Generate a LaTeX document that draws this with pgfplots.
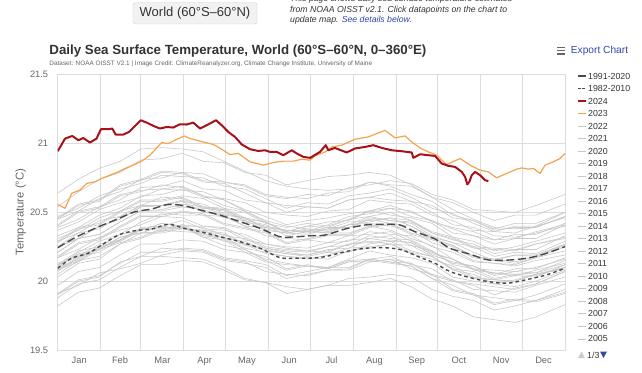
\documentclass[border=0pt]{standalone}
\usepackage{fontspec}
\setmainfont{Liberation Sans}
\usepackage{pgfplots}
\pgfplotsset{compat=1.18}
\definecolor{gridc}{HTML}{DCDCDC}
\definecolor{ticktxt}{HTML}{666666}
\definecolor{titletxt}{HTML}{333333}
\definecolor{greyline}{HTML}{C8C8C8}
\definecolor{meanc}{HTML}{4A4A4A}
\definecolor{red24}{HTML}{A8101A}
\definecolor{orange23}{HTML}{F4A34C}
\definecolor{linkblue}{HTML}{3348A8}
\definecolor{btnfill}{HTML}{F2F2F2}
\definecolor{btnborder}{HTML}{CCCCCC}
\tikzset{
  gl/.style={greyline, line width=0.6bp, line join=round},
  m9120/.style={meanc, line width=1.4bp, dash pattern=on 8bp off 3.5bp},
  m8210/.style={meanc, line width=1.4bp, dash pattern=on 3.5bp off 3bp},
  y24/.style={red24, line width=2bp, line join=round},
  y23/.style={orange23, line width=1.2bp, line join=round},
  legtext/.style={anchor=west, inner sep=0pt, text=titletxt, font=\fontsize{8.8bp}{8.8bp}\selectfont},
}
\begin{document}
\begin{tikzpicture}[x=1bp,y=1bp]
\path[use as bounding box] (0,0) rectangle (642,372);
\begin{axis}[
  at={(57.7bp,22bp)}, anchor=south west,
  scale only axis, width=507.3bp, height=275.3bp,
  xmin=0, xmax=366, ymin=19.5, ymax=21.5,
  xtick={15.5,45,75.5,106,136.5,167,197.5,228.5,259,289.5,320,350.5},
  xticklabels={Jan,Feb,Mar,Apr,May,Jun,Jul,Aug,Sep,Oct,Nov,Dec},
  minor xtick={31,60,91,121,152,182,213,244,274,305,335},
  xminorgrids,
  ytick={19.5,20,20.5,21,21.5},
  yticklabels={19.5,20,20.5,21,21.5},
  ymajorgrids,
  major tick length=0pt, minor tick length=0pt,
  grid style={draw=gridc, line width=0.8bp},
  minor grid style={draw=gridc, line width=0.8bp},
  axis line style={draw=gridc, line width=0.8bp},
  xticklabel style={font=\fontsize{9.3bp}{9.3bp}\selectfont, text=ticktxt, anchor=base, inner sep=0pt, yshift=-13.1bp},
  yticklabel style={font=\fontsize{9.3bp}{9.3bp}\selectfont, text=ticktxt, anchor=east, inner sep=0pt, xshift=-9.4bp},
]
% grey years 1982-2022
\addplot[gl] coordinates {(0,19.91)(15,19.97)(30,20.06)(45,20.09)(60,20.13)(75,20.19)(90,20.22)(105,20.21)(120,20.15)(135,20.13)(150,20.10)(165,20.02)(180,20.05)(195,20.08)(210,20.08)(225,20.14)(240,20.16)(255,20.13)(270,20.04)(285,20.00)(300,19.97)(315,19.90)(330,19.95)(345,19.98)(366,20.07)};
\addplot[gl] coordinates {(0,20.12)(15,20.22)(30,20.25)(45,20.34)(60,20.37)(75,20.42)(90,20.40)(105,20.33)(120,20.31)(135,20.23)(150,20.16)(165,20.13)(180,20.11)(195,20.10)(210,20.15)(225,20.16)(240,20.14)(255,20.11)(270,20.02)(285,19.93)(300,19.90)(315,19.83)(330,19.86)(345,19.85)(366,19.91)};
\addplot[gl] coordinates {(0,19.88)(15,19.98)(30,20.01)(45,20.10)(60,20.18)(75,20.18)(90,20.17)(105,20.16)(120,20.10)(135,20.02)(150,19.99)(165,19.91)(180,19.94)(195,19.97)(210,19.97)(225,19.99)(240,20.02)(255,19.96)(270,19.87)(285,19.82)(300,19.74)(315,19.72)(330,19.70)(345,19.74)(366,19.83)};
\addplot[gl] coordinates {(0,19.82)(15,19.92)(30,19.95)(45,20.04)(60,20.12)(75,20.12)(90,20.15)(105,20.14)(120,20.08)(135,20.01)(150,19.99)(165,19.96)(180,19.94)(195,19.97)(210,20.02)(225,20.03)(240,20.05)(255,20.03)(270,19.94)(285,19.89)(300,19.86)(315,19.79)(330,19.82)(345,19.86)(366,19.94)};
\addplot[gl] coordinates {(0,19.91)(15,20.01)(30,20.04)(45,20.13)(60,20.21)(75,20.21)(90,20.24)(105,20.23)(120,20.17)(135,20.15)(150,20.12)(165,20.04)(180,20.07)(195,20.10)(210,20.10)(225,20.16)(240,20.18)(255,20.12)(270,20.09)(285,20.00)(300,19.98)(315,19.96)(330,19.94)(345,19.98)(366,20.07)};
\addplot[gl] coordinates {(0,20.07)(15,20.17)(30,20.25)(45,20.29)(60,20.37)(75,20.42)(90,20.40)(105,20.40)(120,20.38)(135,20.30)(150,20.27)(165,20.24)(180,20.22)(195,20.25)(210,20.30)(225,20.31)(240,20.33)(255,20.26)(270,20.22)(285,20.12)(300,20.09)(315,20.02)(330,20.05)(345,20.04)(366,20.10)};
\addplot[gl] coordinates {(0,20.12)(15,20.18)(30,20.27)(45,20.30)(60,20.38)(75,20.37)(90,20.40)(105,20.32)(120,20.30)(135,20.21)(150,20.18)(165,20.09)(180,20.12)(195,20.09)(210,20.14)(225,20.14)(240,20.16)(255,20.09)(270,20.05)(285,19.94)(300,19.91)(315,19.84)(330,19.87)(345,19.86)(366,19.92)};
\addplot[gl] coordinates {(0,19.90)(15,20.00)(30,20.03)(45,20.14)(60,20.18)(75,20.24)(90,20.23)(105,20.22)(120,20.16)(135,20.14)(150,20.07)(165,20.05)(180,20.04)(195,20.08)(210,20.09)(225,20.16)(240,20.14)(255,20.13)(270,20.05)(285,20.01)(300,19.94)(315,19.93)(330,19.92)(345,19.97)(366,20.03)};
\addplot[gl] coordinates {(0,20.03)(15,20.13)(30,20.16)(45,20.27)(60,20.31)(75,20.37)(90,20.36)(105,20.35)(120,20.29)(135,20.27)(150,20.20)(165,20.18)(180,20.17)(195,20.16)(210,20.22)(225,20.24)(240,20.27)(255,20.21)(270,20.18)(285,20.09)(300,20.02)(315,20.01)(330,20.00)(345,20.05)(366,20.10)};
\addplot[gl] coordinates {(0,20.09)(15,20.15)(30,20.24)(45,20.29)(60,20.38)(75,20.39)(90,20.38)(105,20.37)(120,20.35)(135,20.27)(150,20.24)(165,20.21)(180,20.19)(195,20.22)(210,20.27)(225,20.28)(240,20.30)(255,20.28)(270,20.19)(285,20.14)(300,20.11)(315,20.04)(330,20.07)(345,20.06)(366,20.15)};
\addplot[gl] coordinates {(0,20.13)(15,20.19)(30,20.23)(45,20.32)(60,20.35)(75,20.36)(90,20.39)(105,20.32)(120,20.26)(135,20.23)(150,20.15)(165,20.08)(180,20.11)(195,20.09)(210,20.14)(225,20.15)(240,20.13)(255,20.11)(270,20.02)(285,19.97)(300,19.90)(315,19.88)(330,19.86)(345,19.90)(366,19.98)};
\addplot[gl] coordinates {(0,19.97)(15,20.07)(30,20.10)(45,20.19)(60,20.27)(75,20.27)(90,20.30)(105,20.29)(120,20.23)(135,20.21)(150,20.14)(165,20.12)(180,20.11)(195,20.10)(210,20.16)(225,20.22)(240,20.19)(255,20.17)(270,20.13)(285,20.03)(300,20.00)(315,19.98)(330,19.96)(345,20.00)(366,20.08)};
\addplot[gl] coordinates {(0,20.05)(15,20.15)(30,20.18)(45,20.27)(60,20.35)(75,20.35)(90,20.38)(105,20.37)(120,20.31)(135,20.29)(150,20.22)(165,20.20)(180,20.19)(195,20.23)(210,20.24)(225,20.31)(240,20.29)(255,20.28)(270,20.20)(285,20.16)(300,20.09)(315,20.08)(330,20.07)(345,20.10)(366,20.16)};
\addplot[gl] coordinates {(0,20.17)(15,20.23)(30,20.32)(45,20.37)(60,20.41)(75,20.47)(90,20.46)(105,20.40)(120,20.39)(135,20.32)(150,20.25)(165,20.23)(180,20.22)(195,20.21)(210,20.27)(225,20.29)(240,20.27)(255,20.26)(270,20.18)(285,20.09)(300,20.07)(315,20.01)(330,20.00)(345,20.05)(366,20.10)};
\addplot[gl] coordinates {(0,20.08)(15,20.14)(30,20.23)(45,20.28)(60,20.32)(75,20.38)(90,20.41)(105,20.34)(120,20.32)(135,20.24)(150,20.21)(165,20.18)(180,20.16)(195,20.19)(210,20.24)(225,20.25)(240,20.27)(255,20.20)(270,20.16)(285,20.11)(300,20.03)(315,20.01)(330,20.04)(345,20.03)(366,20.12)};
\addplot[gl] coordinates {(0,20.11)(15,20.21)(30,20.29)(45,20.34)(60,20.43)(75,20.49)(90,20.48)(105,20.48)(120,20.47)(135,20.40)(150,20.39)(165,20.37)(180,20.36)(195,20.41)(210,20.47)(225,20.49)(240,20.53)(255,20.51)(270,20.43)(285,20.39)(300,20.36)(315,20.30)(330,20.34)(345,20.34)(366,20.42)};
\addplot[gl] coordinates {(0,20.41)(15,20.51)(30,20.54)(45,20.63)(60,20.66)(75,20.67)(90,20.69)(105,20.62)(120,20.55)(135,20.51)(150,20.43)(165,20.35)(180,20.37)(195,20.35)(210,20.35)(225,20.40)(240,20.37)(255,20.31)(270,20.26)(285,20.16)(300,20.09)(315,20.06)(330,20.05)(345,20.06)(366,20.12)};
\addplot[gl] coordinates {(0,20.10)(15,20.20)(30,20.23)(45,20.32)(60,20.35)(75,20.40)(90,20.38)(105,20.36)(120,20.34)(135,20.26)(150,20.23)(165,20.20)(180,20.18)(195,20.21)(210,20.21)(225,20.27)(240,20.29)(255,20.22)(270,20.18)(285,20.08)(300,20.05)(315,19.98)(330,20.01)(345,20.05)(366,20.09)};
\addplot[gl] coordinates {(0,20.08)(15,20.18)(30,20.21)(45,20.30)(60,20.38)(75,20.38)(90,20.41)(105,20.39)(120,20.33)(135,20.31)(150,20.24)(165,20.22)(180,20.21)(195,20.25)(210,20.26)(225,20.33)(240,20.31)(255,20.30)(270,20.22)(285,20.13)(300,20.11)(315,20.05)(330,20.09)(345,20.09)(366,20.17)};
\addplot[gl] coordinates {(0,20.18)(15,20.28)(30,20.31)(45,20.40)(60,20.48)(75,20.48)(90,20.51)(105,20.49)(120,20.42)(135,20.39)(150,20.36)(165,20.28)(180,20.31)(195,20.34)(210,20.34)(225,20.40)(240,20.42)(255,20.35)(270,20.31)(285,20.26)(300,20.18)(315,20.16)(330,20.19)(345,20.18)(366,20.27)};
\addplot[gl] coordinates {(0,20.25)(15,20.31)(30,20.40)(45,20.45)(60,20.54)(75,20.55)(90,20.54)(105,20.53)(120,20.51)(135,20.43)(150,20.40)(165,20.37)(180,20.35)(195,20.38)(210,20.43)(225,20.44)(240,20.46)(255,20.44)(270,20.35)(285,20.30)(300,20.27)(315,20.20)(330,20.23)(345,20.27)(366,20.31)};
\addplot[gl] coordinates {(0,20.31)(15,20.37)(30,20.46)(45,20.51)(60,20.55)(75,20.61)(90,20.60)(105,20.54)(120,20.53)(135,20.46)(150,20.39)(165,20.37)(180,20.36)(195,20.35)(210,20.41)(225,20.43)(240,20.46)(255,20.40)(270,20.32)(285,20.28)(300,20.21)(315,20.15)(330,20.19)(345,20.19)(366,20.27)};
\addplot[gl] coordinates {(0,20.25)(15,20.35)(30,20.38)(45,20.47)(60,20.55)(75,20.55)(90,20.58)(105,20.56)(120,20.49)(135,20.46)(150,20.38)(165,20.35)(180,20.38)(195,20.36)(210,20.41)(225,20.47)(240,20.44)(255,20.42)(270,20.33)(285,20.28)(300,20.25)(315,20.18)(330,20.21)(345,20.20)(366,20.29)};
\addplot[gl] coordinates {(0,20.28)(15,20.38)(30,20.41)(45,20.50)(60,20.58)(75,20.58)(90,20.61)(105,20.54)(120,20.52)(135,20.44)(150,20.41)(165,20.33)(180,20.36)(195,20.39)(210,20.39)(225,20.45)(240,20.42)(255,20.40)(270,20.31)(285,20.26)(300,20.18)(315,20.16)(330,20.14)(345,20.18)(366,20.26)};
\addplot[gl] coordinates {(0,20.21)(15,20.31)(30,20.34)(45,20.43)(60,20.51)(75,20.51)(90,20.54)(105,20.52)(120,20.46)(135,20.44)(150,20.37)(165,20.35)(180,20.34)(195,20.38)(210,20.39)(225,20.46)(240,20.44)(255,20.43)(270,20.35)(285,20.31)(300,20.24)(315,20.23)(330,20.22)(345,20.27)(366,20.32)};
\addplot[gl] coordinates {(0,20.29)(15,20.35)(30,20.44)(45,20.47)(60,20.55)(75,20.55)(90,20.58)(105,20.50)(120,20.48)(135,20.40)(150,20.33)(165,20.31)(180,20.30)(195,20.28)(210,20.33)(225,20.34)(240,20.36)(255,20.29)(270,20.21)(285,20.16)(300,20.08)(315,20.06)(330,20.04)(345,20.08)(366,20.13)};
\addplot[gl] coordinates {(0,20.10)(15,20.16)(30,20.25)(45,20.30)(60,20.39)(75,20.40)(90,20.44)(105,20.38)(120,20.37)(135,20.34)(150,20.27)(165,20.25)(180,20.24)(195,20.28)(210,20.29)(225,20.36)(240,20.34)(255,20.33)(270,20.25)(285,20.21)(300,20.14)(315,20.13)(330,20.12)(345,20.17)(366,20.22)};
\addplot[gl] coordinates {(0,20.21)(15,20.31)(30,20.34)(45,20.43)(60,20.51)(75,20.52)(90,20.56)(105,20.54)(120,20.48)(135,20.46)(150,20.43)(165,20.36)(180,20.40)(195,20.43)(210,20.44)(225,20.51)(240,20.53)(255,20.47)(270,20.44)(285,20.35)(300,20.33)(315,20.27)(330,20.31)(345,20.31)(366,20.41)};
\addplot[gl] coordinates {(0,20.40)(15,20.50)(30,20.53)(45,20.62)(60,20.65)(75,20.70)(90,20.68)(105,20.62)(120,20.59)(135,20.51)(150,20.44)(165,20.40)(180,20.38)(195,20.37)(210,20.41)(225,20.42)(240,20.40)(255,20.37)(270,20.28)(285,20.23)(300,20.15)(315,20.13)(330,20.11)(345,20.15)(366,20.19)};
\addplot[gl] coordinates {(0,20.17)(15,20.27)(30,20.30)(45,20.39)(60,20.47)(75,20.47)(90,20.50)(105,20.48)(120,20.41)(135,20.38)(150,20.35)(165,20.27)(180,20.30)(195,20.33)(210,20.33)(225,20.39)(240,20.41)(255,20.34)(270,20.30)(285,20.25)(300,20.17)(315,20.15)(330,20.13)(345,20.17)(366,20.25)};
\addplot[gl] coordinates {(0,20.25)(15,20.31)(30,20.40)(45,20.45)(60,20.54)(75,20.55)(90,20.59)(105,20.53)(120,20.52)(135,20.45)(150,20.43)(165,20.36)(180,20.40)(195,20.39)(210,20.45)(225,20.47)(240,20.50)(255,20.44)(270,20.36)(285,20.32)(300,20.25)(315,20.24)(330,20.23)(345,20.23)(366,20.33)};
\addplot[gl] coordinates {(0,20.29)(15,20.39)(30,20.42)(45,20.51)(60,20.59)(75,20.59)(90,20.62)(105,20.60)(120,20.53)(135,20.50)(150,20.42)(165,20.39)(180,20.42)(195,20.40)(210,20.45)(225,20.51)(240,20.48)(255,20.46)(270,20.42)(285,20.32)(300,20.29)(315,20.22)(330,20.25)(345,20.29)(366,20.35)};
\addplot[gl] coordinates {(0,20.33)(15,20.39)(30,20.48)(45,20.53)(60,20.62)(75,20.63)(90,20.67)(105,20.61)(120,20.60)(135,20.57)(150,20.50)(165,20.48)(180,20.47)(195,20.51)(210,20.52)(225,20.59)(240,20.57)(255,20.56)(270,20.48)(285,20.44)(300,20.37)(315,20.36)(330,20.35)(345,20.40)(366,20.46)};
\addplot[gl] coordinates {(0,20.45)(15,20.51)(30,20.60)(45,20.65)(60,20.74)(75,20.75)(90,20.79)(105,20.73)(120,20.72)(135,20.69)(150,20.62)(165,20.60)(180,20.63)(195,20.62)(210,20.68)(225,20.70)(240,20.73)(255,20.71)(270,20.63)(285,20.59)(300,20.52)(315,20.51)(330,20.50)(345,20.55)(366,20.63)};
\addplot[gl] coordinates {(0,20.64)(15,20.74)(30,20.82)(45,20.87)(60,20.96)(75,20.97)(90,20.96)(105,20.94)(120,20.87)(135,20.80)(150,20.73)(165,20.69)(180,20.67)(195,20.66)(210,20.67)(225,20.72)(240,20.69)(255,20.63)(270,20.58)(285,20.48)(300,20.44)(315,20.37)(330,20.39)(345,20.39)(366,20.47)};
\addplot[gl] coordinates {(0,20.45)(15,20.55)(30,20.58)(45,20.69)(60,20.73)(75,20.79)(90,20.78)(105,20.72)(120,20.71)(135,20.64)(150,20.57)(165,20.55)(180,20.54)(195,20.53)(210,20.59)(225,20.61)(240,20.59)(255,20.58)(270,20.50)(285,20.41)(300,20.39)(315,20.33)(330,20.32)(345,20.35)(366,20.40)};
\addplot[gl] coordinates {(0,20.37)(15,20.43)(30,20.52)(45,20.57)(60,20.61)(75,20.67)(90,20.66)(105,20.65)(120,20.59)(135,20.52)(150,20.47)(165,20.41)(180,20.44)(195,20.46)(210,20.49)(225,20.51)(240,20.55)(255,20.50)(270,20.44)(285,20.38)(300,20.33)(315,20.30)(330,20.31)(345,20.36)(366,20.41)};
\addplot[gl] coordinates {(0,20.46)(15,20.56)(30,20.59)(45,20.70)(60,20.74)(75,20.80)(90,20.79)(105,20.78)(120,20.72)(135,20.70)(150,20.63)(165,20.61)(180,20.60)(195,20.64)(210,20.65)(225,20.72)(240,20.70)(255,20.69)(270,20.61)(285,20.57)(300,20.50)(315,20.44)(330,20.48)(345,20.48)(366,20.56)};
\addplot[gl] coordinates {(0,20.54)(15,20.65)(30,20.74)(45,20.79)(60,20.88)(75,20.89)(90,20.93)(105,20.87)(120,20.86)(135,20.79)(150,20.77)(165,20.70)(180,20.73)(195,20.76)(210,20.77)(225,20.79)(240,20.77)(255,20.70)(270,20.61)(285,20.52)(300,20.45)(315,20.39)(330,20.38)(345,20.39)(366,20.47)};
\addplot[gl] coordinates {(0,20.39)(15,20.45)(30,20.54)(45,20.59)(60,20.68)(75,20.69)(90,20.73)(105,20.67)(120,20.66)(135,20.59)(150,20.57)(165,20.50)(180,20.54)(195,20.53)(210,20.59)(225,20.61)(240,20.64)(255,20.58)(270,20.55)(285,20.46)(300,20.44)(315,20.38)(330,20.42)(345,20.42)(366,20.50)};
\addplot[gl] coordinates {(0,20.47)(15,20.53)(30,20.62)(45,20.67)(60,20.71)(75,20.77)(90,20.76)(105,20.75)(120,20.69)(135,20.67)(150,20.60)(165,20.53)(180,20.57)(195,20.56)(210,20.62)(225,20.64)(240,20.67)(255,20.61)(270,20.53)(285,20.49)(300,20.42)(315,20.36)(330,20.40)(345,20.40)(366,20.50)};
% climatological means
\addplot[m8210, smooth] coordinates {(0,20.094)(10.1,20.167)(22.1,20.203)(31.7,20.263)(43.7,20.335)(55.8,20.367)(67.8,20.379)(79.8,20.413)(91.3,20.384)(102.7,20.36)(117.1,20.323)(131.5,20.287)(146,20.239)(160.4,20.171)(172.4,20.167)(182,20.167)(192.9,20.178)(207.3,20.214)(221.7,20.239)(236.1,20.243)(248.2,20.227)(260.2,20.178)(272.2,20.13)(283,20.07)(297.5,20.026)(310.7,19.997)(325.1,19.986)(340.8,20.017)(352.8,20.046)(366,20.094)};
\addplot[m9120, smooth] coordinates {(0,20.243)(12.5,20.316)(26.9,20.384)(41.3,20.444)(55.8,20.504)(67.8,20.524)(79.8,20.558)(91.3,20.548)(102.7,20.517)(117.1,20.48)(131.5,20.432)(146,20.384)(160.4,20.323)(172.4,20.323)(182,20.33)(192.9,20.335)(207.3,20.379)(221.7,20.408)(236.1,20.413)(246.9,20.408)(257.7,20.36)(272.2,20.307)(283,20.239)(297.5,20.196)(310.7,20.154)(326.4,20.154)(340.8,20.171)(352.8,20.203)(366,20.251)};
% 2023
\addplot[y23] coordinates {(0,20.558)(5.3,20.529)(10.1,20.638)(16.1,20.662)(20.9,20.71)(26.9,20.722)(31.7,20.746)(37.7,20.77)(43.7,20.794)(48.6,20.819)(54.5,20.843)(60.6,20.872)(66.6,20.915)(71.4,20.968)(75,21.007)(79.8,21.0)(84.6,21.024)(91.3,21.055)(95.5,21.036)(102.7,21.017)(112.3,20.993)(119.5,20.951)(124.3,20.92)(130.3,20.928)(138.7,20.867)(148.3,20.843)(155.6,20.862)(162.8,20.872)(170,20.872)(176,20.886)(182,20.879)(185.6,20.91)(192.9,20.939)(197.7,20.975)(204.9,20.988)(214.5,21.031)(224.1,21.048)(230.2,21.072)(236.1,21.096)(243.4,21.041)(250.6,21.055)(255.4,21.012)(261.4,20.968)(267.4,20.939)(273.4,20.915)(280.6,20.848)(290.3,20.891)(297.5,20.843)(304.7,20.806)(310.7,20.794)(316.7,20.751)(323.9,20.783)(331.2,20.814)(334.8,20.823)(339.6,20.814)(343.2,20.819)(348,20.783)(351.6,20.843)(357.6,20.867)(362.4,20.891)(366,20.928)};
% 2024
\addplot[y24] coordinates {(0,20.944)(5.3,21.036)(10.5,21.055)(14.9,21.024)(18.5,21.04)(23.3,21.007)(28,21.036)(31.2,21.104)(36.5,21.104)(39.4,21.109)(41.8,21.065)(47.3,21.065)(51.4,21.084)(55.8,21.128)(59.9,21.169)(64.2,21.152)(69,21.128)(73.8,21.109)(78.6,21.12)(83.4,21.116)(88.2,21.14)(93,21.138)(97.8,21.152)(102.7,21.109)(107.5,21.133)(114.2,21.169)(118.3,21.133)(123.1,21.084)(127.9,21.048)(132.8,20.993)(138.7,20.959)(144.7,20.946)(149.6,20.951)(153.2,20.939)(158,20.939)(162.8,20.915)(168.8,20.951)(172.4,20.928)(177.2,20.903)(182,20.896)(183.3,20.903)(189.2,20.939)(193.4,20.988)(195.2,20.951)(200,20.968)(208.5,20.935)(214.5,20.964)(221.7,20.975)(227.7,20.988)(233.8,20.968)(241,20.951)(248.2,20.944)(255.4,20.935)(256.6,20.896)(261.4,20.922)(267.4,20.915)(272.2,20.91)(277,20.855)(281.8,20.838)(286.7,20.83)(291.5,20.794)(293.9,20.758)(295.5,20.703)(297,20.722)(298.7,20.77)(301.1,20.794)(304.7,20.77)(308.3,20.734)(310.7,20.727)};
\end{axis}
% y axis title
\node[rotate=90, inner sep=0pt, text=ticktxt, font=\fontsize{11.3bp}{11.3bp}\selectfont] at (20.7,160) {Temperature (°C)};
% titles
\node[anchor=west, inner sep=0pt, text=titletxt, font=\bfseries\fontsize{13.3bp}{13.3bp}\selectfont] at (49.3,321.3) {Daily Sea Surface Temperature, World (60°S–60°N, 0–360°E)};
\node[anchor=west, inner sep=0pt, text=ticktxt, font=\fontsize{6.4bp}{6.4bp}\selectfont] at (49.3,307.7) {Dataset: NOAA OISST V2.1 | Image Credit: ClimateReanalyzer.org, Climate Change Institute, University of Maine};
% export chart
\foreach \yy in {324.5,321.3,318.1} {\draw[ticktxt, line width=1.2bp] (557,\yy) -- (565,\yy);}
\node[anchor=west, inner sep=0pt, text=linkblue, font=\fontsize{10.2bp}{10.2bp}\selectfont] at (570.7,321.3) {Export Chart};
% top button and note
\draw[fill=btnfill, draw=btnborder, rounded corners=2.5bp] (133,348) rectangle (257,369.3);
\node[inner sep=0pt, text=titletxt, font=\fontsize{13bp}{13bp}\selectfont] at (195,358.7) {World (60°S–60°N)};
\node[anchor=west, inner sep=0pt, text=titletxt, font=\itshape\fontsize{8.7bp}{8.7bp}\selectfont] at (290,373) {This page shows daily sea surface temperature estimates};
\node[anchor=west, inner sep=0pt, text=titletxt, font=\itshape\fontsize{8.7bp}{8.7bp}\selectfont] at (290,362) {from NOAA OISST v2.1. Click datapoints on the chart to};
\node[anchor=west, inner sep=0pt, text=titletxt, font=\itshape\fontsize{8.7bp}{8.7bp}\selectfont] at (290,352) {update map. \textcolor{linkblue}{See details below.}};
% legend
\draw[m9120] (578,296) -- (586,296); \node[legtext] at (588,296) {1991-2020};
\draw[meanc, line width=1.4bp, dash pattern=on 2.5bp off 1.8bp] (578,283.48) -- (586,283.48); \node[legtext] at (588,283.48) {1982-2010};
\draw[y24] (578,270.96) -- (586,270.96); \node[legtext] at (588,270.96) {2024};
\draw[y23] (578,258.44) -- (586,258.44); \node[legtext] at (588,258.44) {2023};
\foreach \yr [count=\k from 4] in {2022,2021,...,2005} {
  \draw[greyline, line width=0.8bp] (578,{296-12.52*\k}) -- (586,{296-12.52*\k});
  \node[legtext] at (588,{296-12.52*\k}) {\yr};
}
\fill[btnborder] (578,14) -- (585,14) -- (581.5,20.5) -- cycle;
\node[legtext] at (587,17) {1/3};
\fill[linkblue] (600,20.5) -- (607,20.5) -- (603.5,14) -- cycle;
\end{tikzpicture}
\end{document}
